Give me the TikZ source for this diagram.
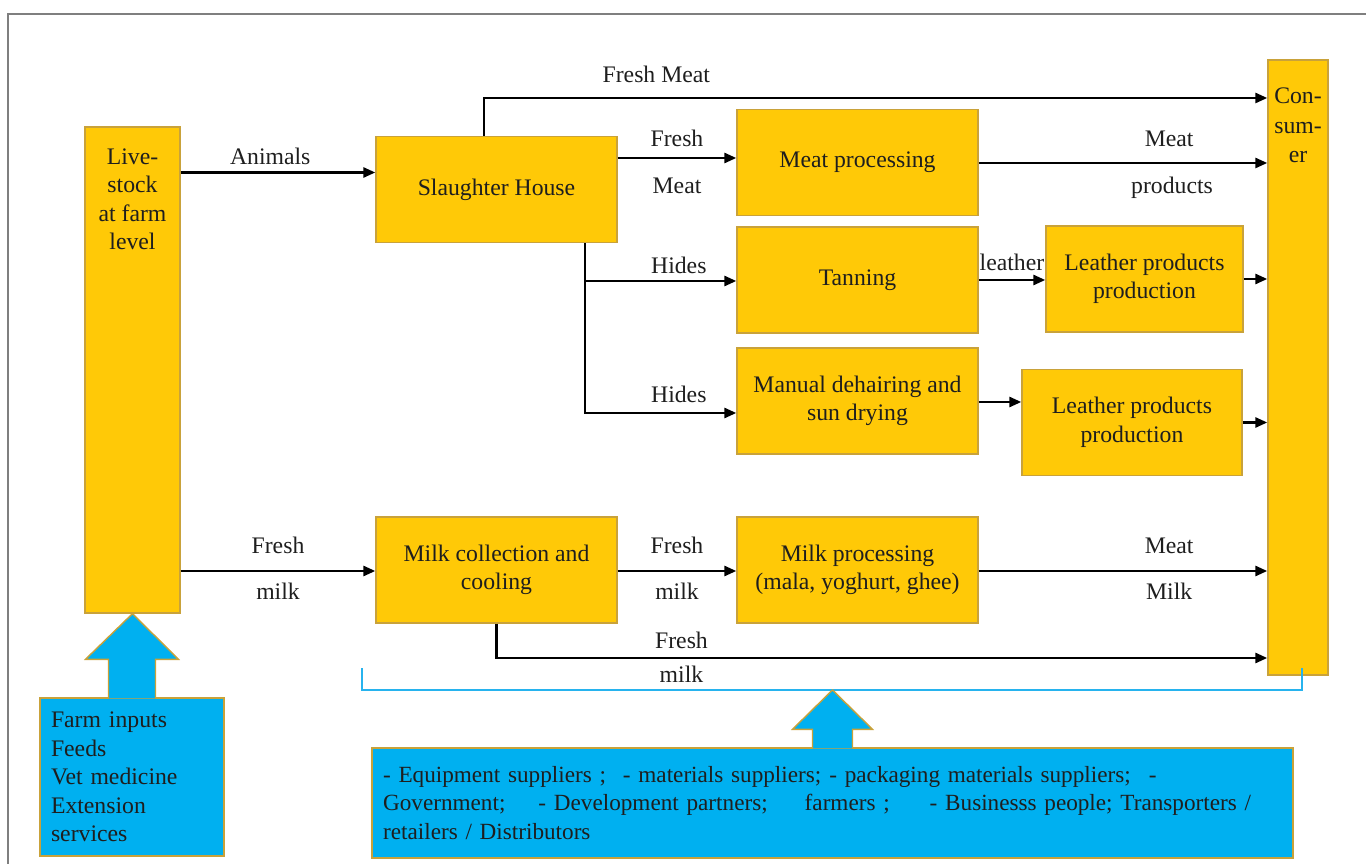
\documentclass[tikz,border=0pt]{standalone}
\usepackage{fontspec}
\setmainfont{Liberation Serif}
\usetikzlibrary{positioning,arrows.meta,calc}
\definecolor{goldfill}{HTML}{FFC907}
\definecolor{goldedge}{HTML}{C9A23A}
\definecolor{skyfill}{HTML}{00B0F0}
\definecolor{skyline}{HTML}{27B3EE}
\definecolor{framegray}{HTML}{7F7F7F}
\definecolor{inktext}{HTML}{1E1E1E}

\begin{document}
\begin{tikzpicture}[x=0.02cm, y=-0.02cm,
  font=\fontsize{13.5}{16.2}\selectfont, text=inktext,
  box/.style={draw=goldedge, fill=goldfill, line width=0.8pt, align=center, inner sep=2pt, minimum width=4.82cm, minimum height=2.12cm},
  inbox/.style={draw=goldedge, fill=skyfill, line width=0.8pt, align=left, inner xsep=0.22cm, inner ysep=2pt},
  blk/.style={draw=goldedge, fill=skyfill, line width=0.8pt},
  lbl/.style={anchor=north, align=center},
  lab/.style={anchor=base, inner sep=0pt, yshift=-0.04cm},
  arr/.style={-{Triangle[length=2.4mm,width=2mm]}, line width=1.5pt},
  brk/.style={draw=skyline, line width=1.2pt}
]
\useasboundingbox (0,0) rectangle (1366,864);
\draw[framegray, line width=0.6pt] (8,864) -- (8,14) -- (1366,14);
% column 1: farm level
\node[box, minimum width=1.9cm, minimum height=9.72cm, label={[lbl, yshift=-0.32cm]north:{Live-\\stock\\at farm\\level}}] (live) at (132.5,370) {};
\node[inbox, text width=3.24cm, minimum height=3.16cm] (fi) at (132,777) {Farm inputs\\Feeds\\Vet medicine\\Extension\\services};
% column 2: first handling
\node[box] (slh) at (496.5,189.5) {Slaughter House};
\node[box] (mc) at (496.5,570) {Milk collection and\\cooling};
% column 3: processing
\node[box] (mp) at (857.5,162.5) {Meat processing};
\node[box] (tan) at (857.5,280) {Tanning};
\node[box] (dh) at (857.5,401) {Manual dehairing and\\sun drying};
\node[box] (mkp) at (857.5,570) {Milk processing\\(mala, yoghurt, ghee)};
% column 4: leather goods
\node[box, minimum width=3.94cm] (lp1) at (1144.5,279) {Leather products\\production};
\node[box, minimum width=4.4cm] (lp2) at (1132,422.5) {Leather products\\production};
% column 5: consumer
\node[box, minimum width=1.2cm, minimum height=12.3cm, label={[lbl, yshift=-0.45cm, font=\fontsize{13.5}{16.8}\selectfont]north:{Con-\\sum-\\er}}] (cons) at (1298,367.5) {};
% bottom: support actors
\node[inbox, text width=17.98cm, minimum height=2.2cm, font=\fontsize{13.2}{16.4}\selectfont] (sup) at (832.5,803)
 {- Equipment suppliers ;\hspace{0.34cm}- materials suppliers;\hspace{0.16cm}- packaging materials suppliers;\hspace{0.36cm}-\\
  Government;\hspace{0.66cm}- Development partners;\hspace{0.74cm}farmers ;\hspace{0.8cm}- Businesss people; Transporters /\\
  retailers / Distributors};
% rows and branch points
\coordinate (yfm) at (0,98);
\coordinate (yan) at (0,172.5);
\coordinate (ym) at (0,158);
\coordinate (ymp) at (0,163);
\coordinate (yh1) at (0,281);
\coordinate (yh2) at (0,413);
\coordinate (ylt) at (0,280);
\coordinate (yl2) at (0,402);
\coordinate (ymk) at (0,571);
\coordinate (yfk) at (0,658);
\coordinate (xfm) at (484,0);
\coordinate (xh) at (585,0);
% meat and hides
\draw[arr] (live.east |- yan) -- node[lab, pos=0.46, yshift=0.2cm] {Animals} (slh.west |- yan);
\draw[arr] (slh.north -| xfm) |- node[lab, pos=0.61, yshift=0.34cm] {Fresh Meat} (cons.west |- yfm);
\draw[arr] (slh.east |- ym) -- node[lab, yshift=0.26cm] {Fresh} node[lab, yshift=-0.68cm] {Meat} (mp.west |- ym);
\draw[arr] (mp.east |- ymp) -- node[lab, pos=0.66, yshift=0.36cm] {Meat} node[lab, pos=0.67, yshift=-0.58cm] {products} (cons.west |- ymp);
\foreach \t/\y/\s in {tan/yh1/0.18, dh/yh2/0.24} \draw[arr] (slh.south -| xh) |- node[lab, pos=0.81, yshift=\s cm] {Hides} (\t.west |- \y);
\draw[arr] (tan.east |- ylt) -- node[lab, yshift=0.22cm] {leather} (lp1.west |- ylt);
\draw[arr] (dh.east |- yl2) -- (lp2.west |- yl2);
\foreach \n in {lp1,lp2} \draw[arr] (\n.east) -- (cons.west |- \n.east);
% milk
\foreach \a/\b in {live/mc, mc/mkp} \draw[arr] (\a.east |- ymk) -- node[lab, yshift=0.4cm] {Fresh} node[lab, yshift=-0.54cm] {milk} (\b.west |- ymk);
\draw[arr] (mkp.east |- ymk) -- node[lab, pos=0.66, yshift=0.4cm] {Meat} node[lab, pos=0.66, yshift=-0.54cm] {Milk} (cons.west |- ymk);
\draw[arr] (mc.south) |- node[lab, pos=0.62, yshift=0.24cm] {Fresh} node[lab, pos=0.62, yshift=-0.46cm] {milk} (cons.west |- yfk);
% bracket and input arrows
\coordinate (bl) at (362,690);
\coordinate (br) at (1302,690);
\coordinate (brk) at (832.5,690);
\draw[brk] (bl) ++(0,-22) -- (bl) -- (br) -- ++(0,-22);
\filldraw[blk] ($(fi.north)+(-23.5,1)$) -- ++(0,-39) -- ++(-23,0) -- (live.south) -- ($(fi.north)+(46.5,-38)$) -- ++(-23,0) -- ++(0,39);
\filldraw[blk] ($(sup.north)+(-20,1)$) -- ++(0,-19) -- ++(-20,0) -- (brk) -- ($(sup.north)+(40,-18)$) -- ++(-20,0) -- ++(0,19);
\end{tikzpicture}
\end{document}
